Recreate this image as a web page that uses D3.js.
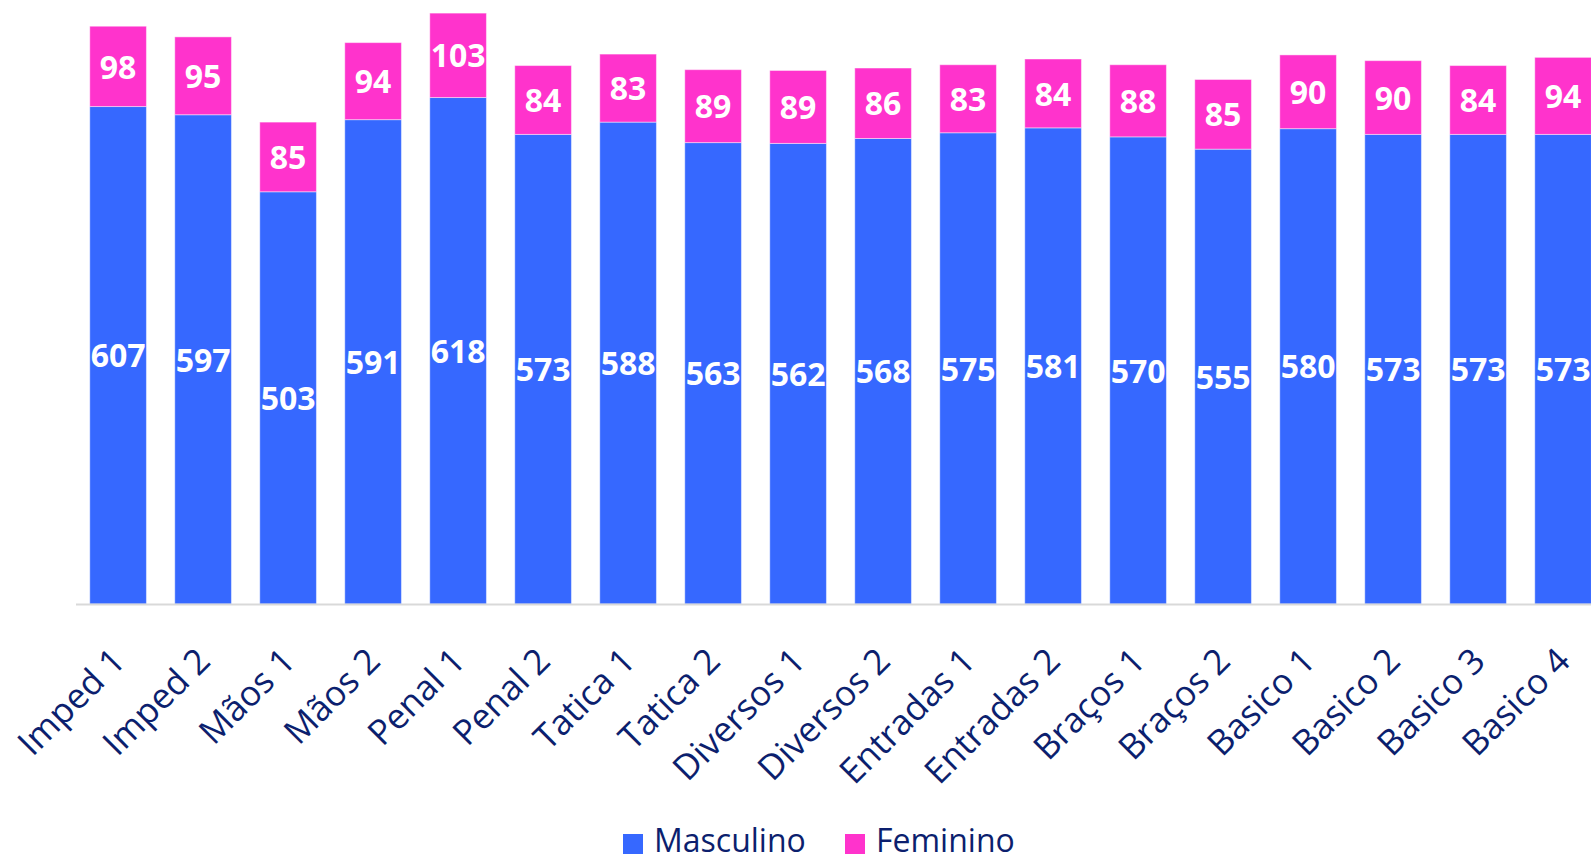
<!DOCTYPE html>
<html>
<head>
<meta charset="utf-8">
<script src="https://cdn.jsdelivr.net/npm/d3@7"></script>
<style>
  body { margin: 0; background: #fff; }
  svg { display: block; font-family: "Open Sans", sans-serif; }
</style>
</head>
<body>
<div id="chart"></div>
<script>
// Categories and series values
const categories = ["Imped 1", "Imped 2", "Mãos 1", "Mãos 2", "Penal 1", "Penal 2", "Tatica 1", "Tatica 2",
  "Diversos 1", "Diversos 2", "Entradas 1", "Entradas 2", "Braços 1", "Braços 2",
  "Basico 1", "Basico 2", "Basico 3", "Basico 4"];
const masculino = [607, 597, 503, 591, 618, 573, 588, 563, 562, 568, 575, 581, 570, 555, 580, 573, 573, 573];
const feminino = [98, 95, 85, 94, 103, 84, 83, 89, 89, 86, 83, 84, 88, 85, 90, 90, 84, 94];
const seriesNames = ["Masculino", "Feminino"];
const colors = {Masculino: "#3668FF", Feminino: "#FF33CC"};

function drawStackedBars() {
    const width = 1591, height = 860;
    const baseY = 604;

    const svg = d3.select("#chart").append("svg")
        .attr("width", width)
        .attr("height", height);

    const rows = categories.map((c, i) => ({cat: c, Masculino: masculino[i], Feminino: feminino[i]}));
    const stacked = d3.stack().keys(seriesNames)(rows);

    // x band: gap width 50% like the original
    const x = d3.scaleBand()
        .domain(categories)
        .range([75.6, 75.6 + 85 * categories.length])
        .paddingInner(1 / 3)
        .paddingOuter(1 / 6);

    const y = d3.scaleLinear()
        .domain([0, 737])
        .range([baseY, 0]);

    // bars
    const layer = svg.selectAll(".layer")
        .data(stacked)
      .enter().append("g")
        .attr("class", "layer")
        .attr("fill", d => colors[d.key]);

    layer.selectAll("rect")
        .data(d => d)
      .enter().append("rect")
        .attr("x", d => x(d.data.cat))
        .attr("y", d => y(d[1]))
        .attr("width", x.bandwidth())
        .attr("height", d => y(d[0]) - y(d[1]))
        .attr("stroke", "#ffffff")
        .attr("stroke-opacity", 0.45)
        .attr("stroke-width", 1);

    // value labels
    layer.selectAll("text")
        .data(d => d)
      .enter().append("text")
        .attr("x", d => x(d.data.cat) + x.bandwidth() / 2)
        .attr("y", d => (y(d[0]) + y(d[1])) / 2)
        .attr("dy", "0.38em")
        .attr("text-anchor", "middle")
        .attr("fill", "#ffffff")
        .attr("font-weight", "bold")
        .attr("font-size", 32)
        .text(d => d[1] - d[0]);

    // x axis line
    svg.append("line")
        .attr("x1", 76).attr("x2", width)
        .attr("y1", baseY + 0.5).attr("y2", baseY + 0.5)
        .attr("stroke", "#d9d9d9")
        .attr("stroke-width", 2);

    // category labels, rotated
    svg.append("g").selectAll("text")
        .data(categories)
      .enter().append("text")
        .attr("transform", d => `translate(${x(d) + x.bandwidth() / 2 + 9},663) rotate(-45)`)
        .attr("text-anchor", "end")
        .attr("fill", "#0C1F6E")
        .attr("font-size", 35)
        .text(d => d);

    // legend
    const legendItems = [
        {name: "Masculino", sx: 623, tx: 654},
        {name: "Feminino", sx: 845, tx: 876}
    ];
    const legend = svg.append("g");
    legend.selectAll("rect")
        .data(legendItems)
      .enter().append("rect")
        .attr("x", d => d.sx).attr("y", 834)
        .attr("width", 20).attr("height", 20)
        .attr("fill", d => colors[d.name]);
    legend.selectAll("text")
        .data(legendItems)
      .enter().append("text")
        .attr("x", d => d.tx).attr("y", 852)
        .attr("fill", "#0C1F6E")
        .attr("font-size", 32)
        .text(d => d.name);
}

drawStackedBars();
</script>
</body>
</html>
